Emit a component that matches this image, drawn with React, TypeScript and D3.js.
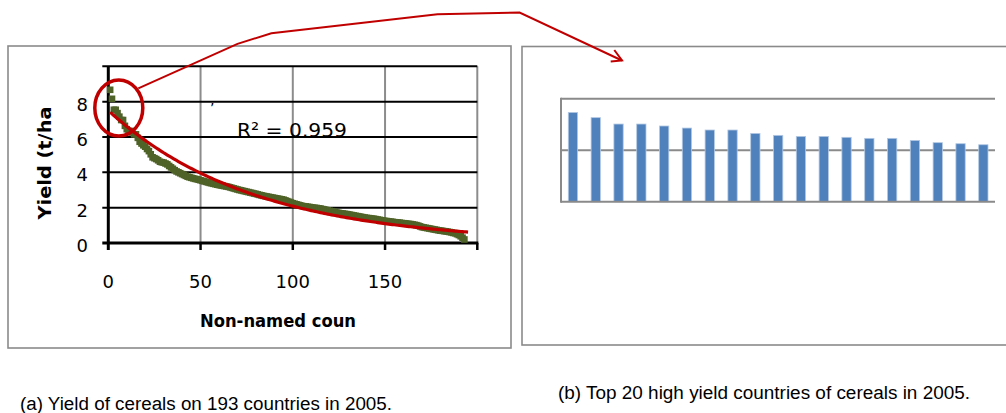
import React, { useRef, useEffect } from 'react';
import * as d3 from 'd3';

// Yield (t/ha) of cereals, countries sorted from highest to lowest
const yieldAll: number[] = [
  8.67, 8.16, 7.54, 7.54, 7.35, 7.15, 6.96, 6.96, 6.63, 6.44,
  6.34, 6.34, 6.25, 6.15, 6.15, 5.95, 5.73, 5.63, 5.53, 5.45,
  5.32, 5.2, 5.02, 4.85, 4.8, 4.75, 4.68, 4.6, 4.57, 4.55,
  4.5, 4.45, 4.36, 4.28, 4.2, 4.12, 4.05, 4.0, 3.95, 3.9,
  3.85, 3.8, 3.75, 3.72, 3.69, 3.66, 3.63, 3.61, 3.58, 3.55,
  3.52, 3.49, 3.46, 3.43, 3.4, 3.38, 3.35, 3.33, 3.3, 3.28,
  3.26, 3.24, 3.22, 3.2, 3.18, 3.15, 3.12, 3.09, 3.06, 3.03,
  3.0, 2.98, 2.95, 2.93, 2.9, 2.88, 2.85, 2.83, 2.8, 2.78,
  2.75, 2.72, 2.7, 2.67, 2.65, 2.63, 2.61, 2.59, 2.57, 2.55,
  2.53, 2.51, 2.49, 2.47, 2.45, 2.41, 2.37, 2.33, 2.29, 2.25,
  2.22, 2.19, 2.16, 2.13, 2.1, 2.08, 2.07, 2.05, 2.04, 2.02,
  2.0, 1.99, 1.98, 1.96, 1.95, 1.92, 1.9, 1.87, 1.85, 1.82,
  1.8, 1.77, 1.75, 1.72, 1.7, 1.68, 1.67, 1.65, 1.64, 1.62,
  1.6, 1.58, 1.56, 1.54, 1.52, 1.5, 1.48, 1.46, 1.44, 1.42,
  1.41, 1.4, 1.38, 1.37, 1.35, 1.33, 1.31, 1.29, 1.27, 1.25,
  1.24, 1.22, 1.21, 1.2, 1.18, 1.17, 1.16, 1.15, 1.13, 1.12,
  1.11, 1.09, 1.08, 1.07, 1.05, 1.03, 1.01, 0.98, 0.94, 0.9,
  0.88, 0.86, 0.84, 0.82, 0.8, 0.78, 0.76, 0.74, 0.72, 0.7,
  0.69, 0.67, 0.66, 0.64, 0.62, 0.6, 0.57, 0.55, 0.5, 0.45,
  0.38, 0.3, 0.2,
];

// exponential trend line y = a * e^(k x)
const trendA = 7.5;
const trendK = -0.0128;
const rSquared = '0.959';

const xTicks = [0, 50, 100, 150];
const yTicks = [0, 2, 4, 6, 8];

// top 20 countries (unnamed in the figure)
const top20Names = d3.range(1, 21).map((i) => `C${i}`);
const top20Values = [
  8.67, 8.16, 7.54, 7.54, 7.35, 7.15, 6.96, 6.96, 6.63, 6.44,
  6.34, 6.34, 6.25, 6.15, 6.15, 5.95, 5.73, 5.63, 5.53, 5.45,
];

const captionA = '(a) Yield of cereals on 193 countries in 2005.';
const captionB = '(b) Top 20 high yield countries of cereals in 2005.';

const W = 1006;
const H = 413;
const RED = '#c00000';
const GREEN = '#4f6228';
const BLUE = '#4f81bd';
const GRAY = '#8a8a8a';
const FONT = '"DejaVu Sans", Verdana, sans-serif';

const App: React.FC = () => {
  const svgRef = useRef<SVGSVGElement>(null);

  useEffect(() => {
    if (!svgRef.current) return;
    const root = d3.select(svgRef.current);
    root.selectAll('*').remove();
    root.attr('width', W).attr('height', H);

    root.append('rect').attr('width', W).attr('height', H).attr('fill', '#fff');

    // panel frames
    root.append('rect')
      .attr('x', 8).attr('y', 46).attr('width', 503).attr('height', 302)
      .attr('fill', 'none').attr('stroke', GRAY).attr('stroke-width', 1.6);
    root.append('rect')
      .attr('x', 522).attr('y', 46.5).attr('width', 500).attr('height', 298.5)
      .attr('fill', 'none').attr('stroke', GRAY).attr('stroke-width', 1.6);

    // ---------- left: scatter + trend ----------
    const x = d3.scaleLinear().domain([0, 200]).range([108.3, 477.3]);
    const y = d3.scaleLinear().domain([0, 10]).range([243, 66.3]);
    const left = root.append('g');

    // vertical grid (gray)
    left.selectAll('.vgrid')
      .data([50, 100, 150, 200])
      .enter()
      .append('line')
      .attr('x1', (d) => x(d)).attr('x2', (d) => x(d))
      .attr('y1', y(10)).attr('y2', y(0))
      .attr('stroke', '#8c8c8c').attr('stroke-width', 2);

    // horizontal grid (black)
    left.selectAll('.hgrid')
      .data([2, 4, 6, 8, 10])
      .enter()
      .append('line')
      .attr('x1', x(0) - 6).attr('x2', x(200))
      .attr('y1', (d) => y(d)).attr('y2', (d) => y(d))
      .attr('stroke', '#000').attr('stroke-width', 2);

    // axes
    left.append('line')
      .attr('x1', x(0)).attr('x2', x(0)).attr('y1', y(10)).attr('y2', y(0) + 7)
      .attr('stroke', '#000').attr('stroke-width', 3);
    left.append('line')
      .attr('x1', x(0) - 6).attr('x2', x(200) + 1).attr('y1', y(0)).attr('y2', y(0))
      .attr('stroke', '#000').attr('stroke-width', 3);
    left.selectAll('.xtickmark')
      .data([50, 100, 150, 200])
      .enter()
      .append('line')
      .attr('x1', (d) => x(d)).attr('x2', (d) => x(d))
      .attr('y1', y(0)).attr('y2', y(0) + 7)
      .attr('stroke', '#000').attr('stroke-width', 2.5);

    left.selectAll('.xtick')
      .data(xTicks)
      .enter()
      .append('text')
      .attr('x', (d) => x(d)).attr('y', 288)
      .attr('text-anchor', 'middle')
      .attr('font-family', FONT).attr('font-size', 18)
      .text((d) => d);

    left.selectAll('.ytick')
      .data(yTicks)
      .enter()
      .append('text')
      .attr('x', 88).attr('y', (d) => y(d) + 9)
      .attr('text-anchor', 'end')
      .attr('font-family', FONT).attr('font-size', 18)
      .text((d) => d);

    left.append('text')
      .attr('transform', 'translate(51,163) rotate(-90)')
      .attr('text-anchor', 'middle')
      .attr('font-family', FONT).attr('font-size', 18).attr('font-weight', 'bold')
      .attr('textLength', 113).attr('lengthAdjust', 'spacingAndGlyphs')
      .text('Yield (t/ha');

    left.append('text')
      .attr('x', 278).attr('y', 327)
      .attr('text-anchor', 'middle')
      .attr('font-family', FONT).attr('font-size', 17).attr('font-weight', 'bold')
      .attr('textLength', 156).attr('lengthAdjust', 'spacingAndGlyphs')
      .text('Non-named coun');

    // scatter markers
    left.selectAll('.pt')
      .data(yieldAll)
      .enter()
      .append('rect')
      .attr('x', (d, i) => x(i + 1) - 3.3)
      .attr('y', (d) => y(d) - 3.3)
      .attr('width', 6.6).attr('height', 6.6)
      .attr('fill', GREEN);

    // trend line
    const trendX = d3.range(1, yieldAll.length + 3);
    const trend = d3.line<number>()
      .x((d) => x(d))
      .y((d) => y(trendA * Math.exp(trendK * d)));
    left.append('path')
      .attr('d', trend(trendX))
      .attr('fill', 'none').attr('stroke', RED).attr('stroke-width', 3.2);

    // trend label (first line hidden behind the grid)
    left.append('text')
      .attr('x', 210).attr('y', 113)
      .attr('font-family', FONT).attr('font-size', 14)
      .text('\u2019');
    left.append('text')
      .attr('x', 237).attr('y', 136.5)
      .attr('font-family', FONT).attr('font-size', 20)
      .attr('textLength', 110).attr('lengthAdjust', 'spacingAndGlyphs')
      .text(`R\u00b2 = ${rSquared}`);

    // highlight circle + connector arrow
    root.append('ellipse')
      .attr('cx', 118.8).attr('cy', 108).attr('rx', 24).attr('ry', 28)
      .attr('fill', 'none').attr('stroke', RED).attr('stroke-width', 3.5);
    const conn: [number, number][] = [
      [138.3, 88.3], [237.5, 43.9], [271.4, 33.2], [437.5, 14.3], [519.6, 12.5], [622, 60.5],
    ];
    root.append('path')
      .attr('d', d3.line()(conn))
      .attr('fill', 'none').attr('stroke', RED).attr('stroke-width', 2);
    root.append('path')
      .attr('d', d3.line()([[614.3, 50], [622, 60.5], [610.7, 61.4]]))
      .attr('fill', 'none').attr('stroke', RED).attr('stroke-width', 2);

    // ---------- right: top 20 bars ----------
    const plotL = 561;
    const plotR = 995;
    const xb = d3.scaleBand<string>()
      .domain(top20Names)
      .range([plotL, plotL + 457.1])
      .paddingInner(0.592)
      .paddingOuter(0.32);
    const yb = d3.scaleLinear().domain([0, 10]).range([201.7, 98.7]);

    root.append('clipPath').attr('id', 'clipBars')
      .append('rect')
      .attr('x', plotL).attr('y', 90).attr('width', plotR - plotL).attr('height', 120);

    const right = root.append('g');
    right.selectAll('.bgrid')
      .data([5, 10])
      .enter()
      .append('line')
      .attr('x1', plotL).attr('x2', plotR)
      .attr('y1', (d) => yb(d)).attr('y2', (d) => yb(d))
      .attr('stroke', GRAY).attr('stroke-width', 2);

    right.append('g').attr('clip-path', 'url(#clipBars)')
      .selectAll('rect')
      .data(top20Values)
      .enter()
      .append('rect')
      .attr('x', (d, i) => xb(top20Names[i]) as number)
      .attr('y', (d) => yb(d))
      .attr('width', xb.bandwidth())
      .attr('height', (d) => yb(0) - yb(d))
      .attr('fill', BLUE)
      .attr('stroke', '#b3c8e3').attr('stroke-width', 0.8);

    right.append('line')
      .attr('x1', plotL).attr('x2', plotL).attr('y1', yb(10) - 1).attr('y2', yb(0) + 1)
      .attr('stroke', GRAY).attr('stroke-width', 2);
    right.append('line')
      .attr('x1', plotL).attr('x2', plotR).attr('y1', yb(0)).attr('y2', yb(0))
      .attr('stroke', GRAY).attr('stroke-width', 2);

    // ---------- captions ----------
    root.append('text')
      .attr('x', 20).attr('y', 410)
      .attr('font-family', '"Liberation Sans", Arial, sans-serif').attr('font-size', 18)
      .attr('textLength', 372).attr('lengthAdjust', 'spacingAndGlyphs')
      .text(captionA);
    root.append('text')
      .attr('x', 558).attr('y', 399)
      .attr('font-family', '"Liberation Sans", Arial, sans-serif').attr('font-size', 18)
      .attr('textLength', 412).attr('lengthAdjust', 'spacingAndGlyphs')
      .text(captionB);
  }, []);

  return (
    <div style={{ position: 'absolute', left: 0, top: 0 }}>
      <svg ref={svgRef} style={{ display: 'block' }} />
    </div>
  );
};

export default App;
